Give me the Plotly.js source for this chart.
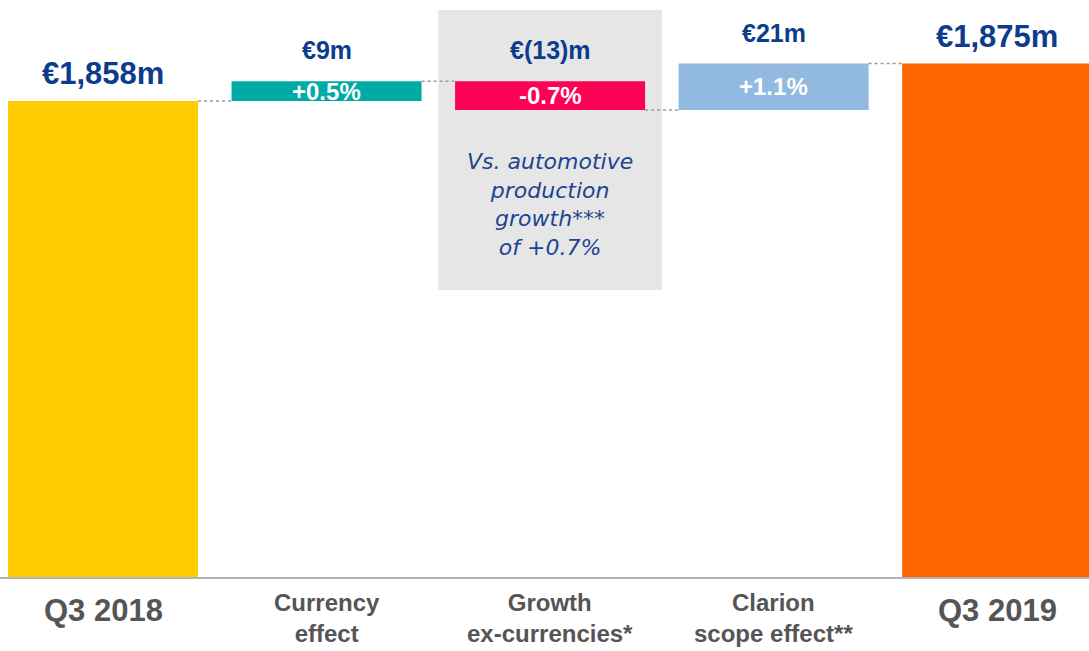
<!DOCTYPE html>
<html>
<head>
<meta charset="utf-8">
<script src="https://cdn.plot.ly/plotly-3.0.1.min.js"></script>
<style>html,body{margin:0;padding:0;background:#fff;}#chart{width:1089px;height:651px;}</style>
</head>
<body>
<div id="chart"></div>
<script>
// ---- data ----
const categories = ['Q3 2018', 'Currency<br>effect', 'Growth<br>ex-currencies*', 'Clarion<br>scope effect**', 'Q3 2019'];
const measures = ['total', 'relative', 'relative', 'relative', 'total'];
const values = [1858, 9, -13, 21, 1875];
const valueLabels = ['€1,858m', '€9m', '€(13)m', '€21m', '€1,875m'];
const pctLabels = ['', '+0.5%', '-0.7%', '+1.1%', ''];
const barColors = ['#FFCC00', '#00AAA6', '#FF0055', '#92B9DF', '#FF6600'];
const noteText = 'Vs. automotive<br>production<br>growth***<br>of +0.7%';

// ---- derived ----
const xs = categories.map((_, i) => i);
const bases = [], tops = [], levels = [];
let level = 0;
values.forEach((v, i) => {
  if (measures[i] === 'total') { bases.push(0); level = v; tops.push(v); }
  else { bases.push(level); tops.push(Math.max(level, level + v)); level += v; }
  levels.push(level);
});

const halfW = 0.425;
const bars = {
  type: 'bar', x: xs, y: values, base: bases, width: 2 * halfW,
  marker: {color: barColors, line: {width: 0}},
  hoverinfo: 'skip'
};
const cx = [], cy = [];
for (let i = 0; i < values.length - 1; i++) {
  cx.push(i + halfW, i + 1 - halfW, null);
  cy.push(levels[i], levels[i], null);
}
const connectors = {
  type: 'scatter', mode: 'lines', x: cx, y: cy,
  line: {color: '#9a9a9a', width: 1.5, dash: 'dot'}, hoverinfo: 'skip'
};

const navy = '#0C3C8C';
const annotations = [];
xs.forEach(i => {
  const isTotal = measures[i] === 'total';
  annotations.push({
    x: i, y: tops[i], xref: 'x', yref: 'y', yanchor: 'bottom', yshift: isTotal ? 8 : 15,
    text: '<b>' + valueLabels[i] + '</b>', showarrow: false,
    font: {family: 'Liberation Sans, Arial, sans-serif', size: isTotal ? 31 : 25, color: navy}
  });
  if (pctLabels[i]) {
    annotations.push({
      x: i, y: bases[i] + values[i] / 2, xref: 'x', yref: 'y', yanchor: 'middle',
      text: '<b>' + pctLabels[i] + '</b>', showarrow: false,
      font: {family: 'Liberation Sans, Arial, sans-serif', size: 24, color: '#ffffff'}
    });
  }
  annotations.push({
    x: i, y: 0, xref: 'x', yref: 'paper', yanchor: 'top', yshift: isTotal ? -14 : -10,
    text: '<b>' + categories[i] + '</b>', showarrow: false,
    font: {family: 'Liberation Sans, Arial, sans-serif', size: isTotal ? 31 : 24, color: '#555555'}
  });
});
annotations.push({
  x: 2, y: 0.645, xref: 'x', yref: 'paper', yanchor: 'middle',
  text: noteText, showarrow: false,
  font: {family: 'DejaVu Sans, sans-serif', size: 22, color: '#1D4591', style: 'italic'}
});

const layout = {
  width: 1089, height: 651,
  margin: {l: 0, r: 0, t: 0, b: 74, pad: 0},
  paper_bgcolor: '#ffffff', plot_bgcolor: '#ffffff',
  showlegend: false,
  xaxis: {range: [-0.461, 4.411], showgrid: false, zeroline: false, showticklabels: false,
          ticks: '', showline: true, linecolor: '#b3b3b3', linewidth: 1.5, layer: 'below traces'},
  yaxis: {range: [1642.3, 1903.8], showgrid: false, zeroline: false, showticklabels: false,
          ticks: '', showline: false},
  shapes: [{type: 'rect', xref: 'x', yref: 'paper', x0: 1.5, x1: 2.5, y0: 0.4974, y1: 0.9827,
            fillcolor: '#E6E6E6', line: {width: 0}, layer: 'below'}],
  annotations: annotations
};

Plotly.newPlot('chart', [bars, connectors], layout, {displayModeBar: false, staticPlot: true});
</script>
</body>
</html>
